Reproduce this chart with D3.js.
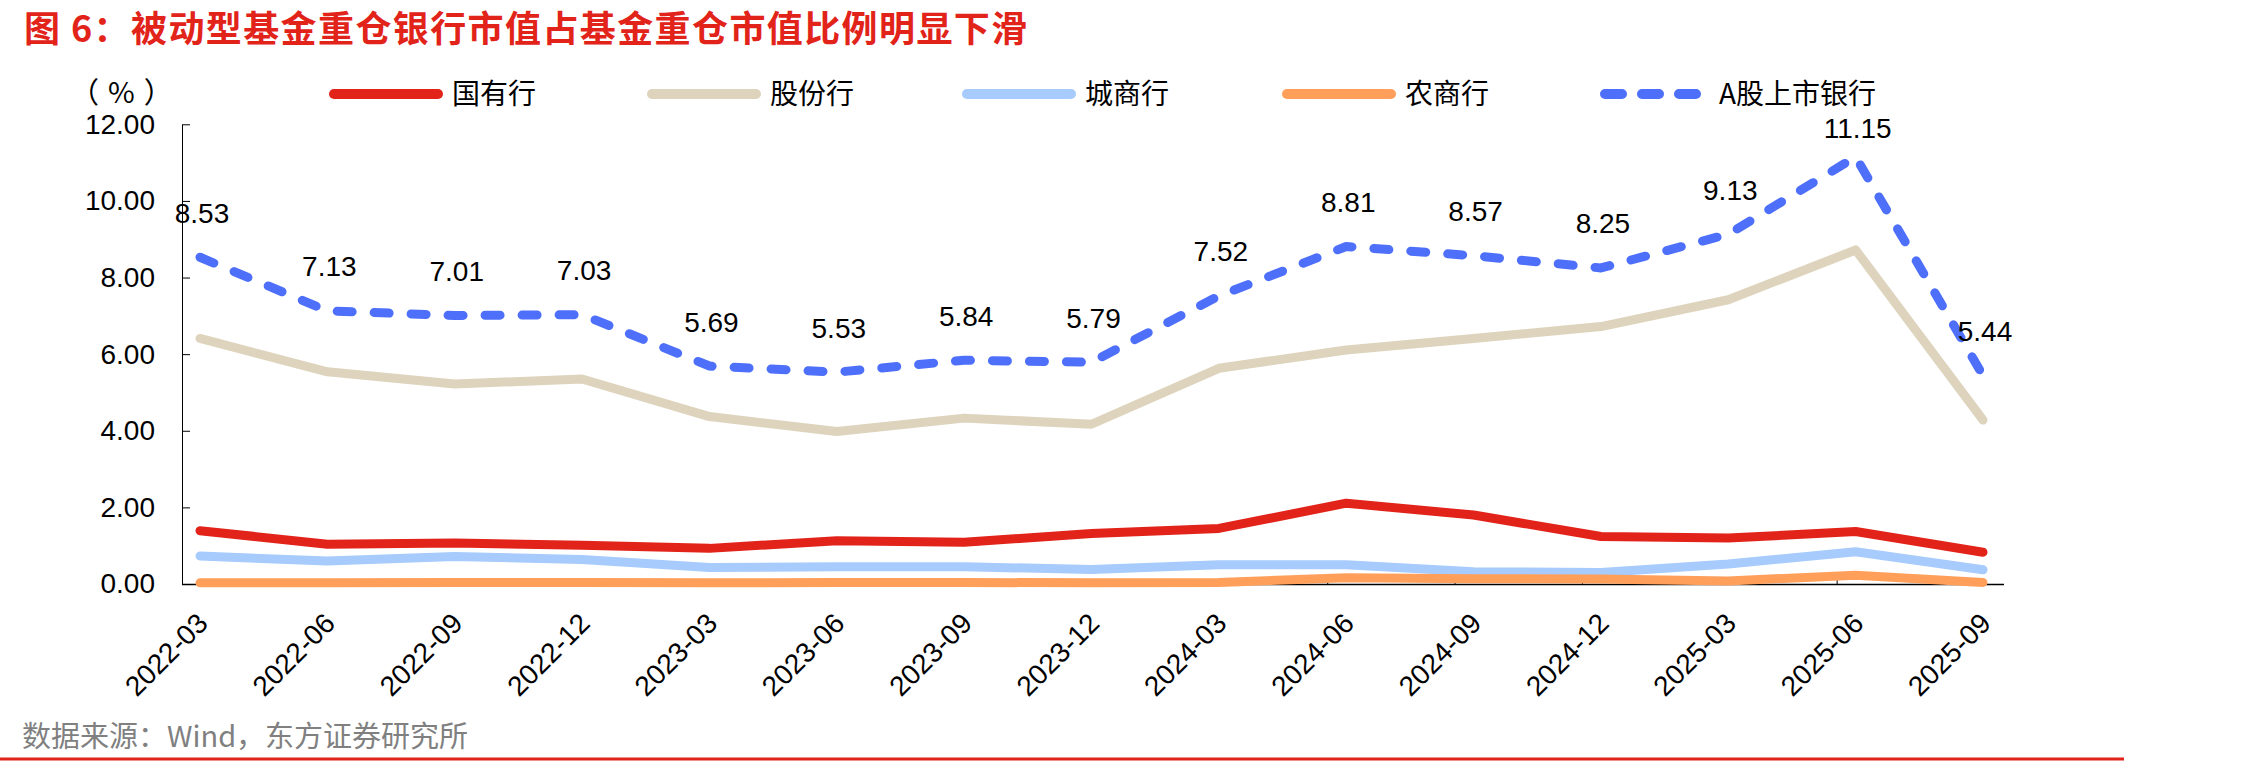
<!DOCTYPE html>
<html><head><meta charset="utf-8">
<script src="https://cdn.jsdelivr.net/npm/d3@7"></script>
<style>body{margin:0;background:#fff} svg{display:block}</style>
</head><body>
<svg id="c" width="2257" height="766"></svg>
<script>
// ---- data ----
const categories = ["2022-03","2022-06","2022-09","2022-12","2023-03","2023-06","2023-09","2023-12","2024-03","2024-06","2024-09","2024-12","2025-03","2025-06","2025-09"];
const stateOwned = [1.39,1.04,1.07,1.01,0.93,1.13,1.09,1.32,1.45,2.11,1.80,1.24,1.20,1.37,0.83];
const jointStock = [6.41,5.54,5.22,5.35,4.37,3.98,4.33,4.17,5.63,6.11,6.41,6.72,7.42,8.72,4.28];
const cityComm   = [0.73,0.60,0.72,0.64,0.43,0.45,0.45,0.38,0.50,0.50,0.32,0.30,0.52,0.84,0.37];
const ruralComm  = [0.03,0.03,0.04,0.04,0.03,0.04,0.04,0.03,0.04,0.16,0.14,0.13,0.08,0.23,0.04];
const aShareBanks= [8.53,7.13,7.01,7.03,5.69,5.53,5.84,5.79,7.52,8.81,8.57,8.25,9.13,11.15,5.44];
const seriesNames = ["国有行","股份行","城商行","农商行","A股上市银行"];
const yTicks = [0,2,4,6,8,10,12];
const titleText = "图 6：被动型基金重仓银行市值占基金重仓市值比例明显下滑";
const unitText = "（%）";
const sourceText = "数据来源：Wind，东方证券研究所";

// ---- layout ----
const svg = d3.select("#c");
const plotTop = 124.3, plotBottom = 584, axisLeftX = 182, axisRightX = 2004;
const x = d3.scalePoint().domain(categories).range([200, 1983]);
const y = d3.scaleLinear().domain([0, 12]).range([plotBottom, plotTop]);
const colors = ["#e2231a", "#ded4bd", "#a6cbfc", "#ff9f5a", "#4d6ffa"];
const dataSets = [stateOwned, jointStock, cityComm, ruralComm, aShareBanks];
const latin = "'Liberation Sans', Arial, sans-serif";
const cjk = "'Noto Sans CJK SC', 'Noto Sans', sans-serif";

// title
svg.append("text").attr("x", 24).attr("y", 42)
  .attr("font-family", cjk).attr("font-weight", "bold").attr("font-size", 36)
  .attr("letter-spacing", 1.4)
  .attr("fill", "#e2231a").text(titleText);

// unit label
svg.append("text").attr("x", 70).attr("y", 103)
  .attr("font-family", cjk).attr("font-size", 29).attr("letter-spacing", 9)
  .attr("fill", "#000").text(unitText);

// y axis
const yAxis = d3.axisLeft(y).tickValues(yTicks).tickFormat(d3.format(".2f"))
  .tickSizeInner(-8).tickSizeOuter(0).tickPadding(27);
const gy = svg.append("g").attr("transform", `translate(${axisLeftX},0)`).call(yAxis);
gy.selectAll("text").attr("font-family", latin).attr("font-size", 28).attr("fill", "#000");
gy.selectAll("line").attr("stroke", "#000");
gy.select(".domain").attr("stroke", "#000");

// x axis (labels via d3 axis, custom ticks)
const xAxis = d3.axisBottom(x).tickSize(0).tickPadding(0);
const gx = svg.append("g").attr("transform", `translate(0,${plotBottom})`).call(xAxis);
gx.select(".domain").remove();
gx.selectAll(".tick text")
  .attr("font-family", latin).attr("font-size", 28).attr("fill", "#000")
  .attr("text-anchor", "end").attr("dy", null).attr("y", null)
  .attr("transform", "translate(9,41) rotate(-45)");
svg.append("line").attr("x1", axisLeftX).attr("x2", axisRightX)
  .attr("y1", plotBottom + 0.5).attr("y2", plotBottom + 0.5).attr("stroke", "#000").attr("stroke-width", 1.5);
svg.append("g").selectAll("line").data(categories.slice(1)).join("line")
  .attr("x1", d => x(d) - 18.5).attr("x2", d => x(d) - 18.5)
  .attr("y1", plotBottom).attr("y2", plotBottom - 5).attr("stroke", "#000");

// lines
const line = d3.line().x((d, i) => x(categories[i])).y(d => y(d));
dataSets.forEach((ds, k) => {
  const p = svg.append("path").datum(ds).attr("d", line)
    .attr("fill", "none").attr("stroke", colors[k]).attr("stroke-width", 9)
    .attr("stroke-linecap", "round").attr("stroke-linejoin", "round");
  if (k === 4) p.attr("stroke-dasharray", "15,22");
});

// data labels for A-share banks
svg.append("g").selectAll("text").data(aShareBanks).join("text")
  .attr("x", (d, i) => x(categories[i]) + 2)
  .attr("y", d => Math.max(y(d) - 34.5, plotTop + 14))
  .attr("text-anchor", "middle").attr("font-family", latin).attr("font-size", 28)
  .attr("fill", "#000").text(d => d3.format(".2f")(d));

// legend
const legendX = [329, 647, 962, 1282, 1600];
const lg = svg.append("g");
seriesNames.forEach((name, k) => {
  const lx = legendX[k];
  const l = lg.append("line").attr("x1", lx + 5).attr("x2", lx + 109)
    .attr("y1", 94).attr("y2", 94).attr("stroke", colors[k]).attr("stroke-width", 10)
    .attr("stroke-linecap", "round");
  if (k === 4) l.attr("x2", lx + 100).attr("stroke-dasharray", "17,20");
  lg.append("text").attr("x", lx + (k === 4 ? 119 : 123)).attr("y", 104)
    .attr("font-family", cjk).attr("font-size", 28).attr("fill", "#000").text(name);
});

// source
svg.append("text").attr("x", 22).attr("y", 747)
  .attr("font-family", cjk).attr("font-size", 29).attr("fill", "#808080").text(sourceText);
svg.append("line").attr("x1", 0).attr("x2", 2124).attr("y1", 759).attr("y2", 759)
  .attr("stroke", "#e2231a").attr("stroke-width", 3);
</script>
</body></html>
